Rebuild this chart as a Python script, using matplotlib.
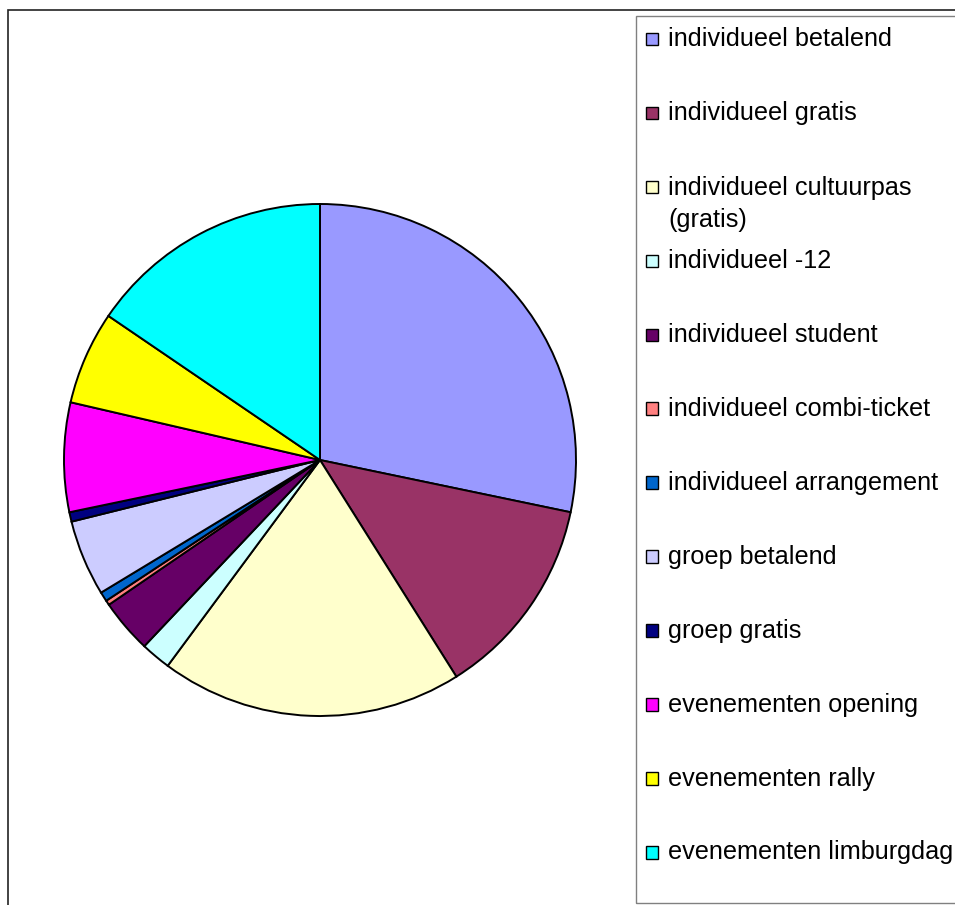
import matplotlib
matplotlib.use("Agg")
from matplotlib import pyplot as plt
from matplotlib.patches import Rectangle

plt.rcParams['font.family'] = ['Liberation Sans', 'DejaVu Sans']

# categorieen en aandeel (in %)
categories = ["individueel betalend", "individueel gratis", "individueel cultuurpas\n(gratis)",
              "individueel -12", "individueel student", "individueel combi-ticket",
              "individueel arrangement", "groep betalend", "groep gratis",
              "evenementen opening", "evenementen rally", "evenementen limburgdag"]
shares = [28.3, 12.8, 19.1, 1.9, 3.4, 0.3, 0.6, 4.8, 0.6, 6.9, 5.9, 15.5]
colors = ["#9999FF", "#993366", "#FFFFCC", "#CCFFFF", "#660066", "#FF8080",
          "#0066CC", "#CCCCFF", "#000080", "#FF00FF", "#FFFF00", "#00FFFF"]

W, H = 955, 905
fig = plt.figure(figsize=(W / 100, H / 100), dpi=100)


def fx(px):
    return px / W


def fy(py):
    return 1 - py / H


# taart: middelpunt (320, 460), straal 256 px
cx, cy, r = 320, 460, 256
ax = fig.add_axes([fx(cx - r), fy(cy + r), 2 * r / W, 2 * r / H])
ax.pie(shares, colors=colors, startangle=90, counterclock=False, radius=1,
       wedgeprops=dict(edgecolor="black", linewidth=1.4))
ax.set_xlim(-1, 1)
ax.set_ylim(-1, 1)
ax.set_aspect("equal")
ax.axis("off")

# rand van de grafiek
fig.add_artist(Rectangle((fx(8), fy(H + 20)), fx(W + 40), fy(10.5) - fy(H + 20),
                         transform=fig.transFigure, fill=False,
                         edgecolor="#222222", linewidth=1.2))

# legenda
fig.add_artist(Rectangle((fx(636), fy(903)), fx(W + 40), fy(16.5) - fy(903),
                         transform=fig.transFigure, fill=False,
                         edgecolor="#808080", linewidth=1.0))
top, step, line_h = 39, 73.95, 33
for i, (lab, col) in enumerate(zip(categories, colors)):
    yc = top + i * step
    fig.add_artist(Rectangle((fx(645.5), fy(yc + 6.3)), fx(12.5), fy(yc - 6.3) - fy(yc + 6.3),
                             transform=fig.transFigure, facecolor=col,
                             edgecolor="black", linewidth=1.0))
    extra = lab.count("\n") * line_h
    fig.text(fx(668), fy(yc + 7 + extra), lab, fontsize=18.2, va="baseline", ha="left",
             linespacing=1.40, color="black")

fig.savefig("out.png", dpi=100)
